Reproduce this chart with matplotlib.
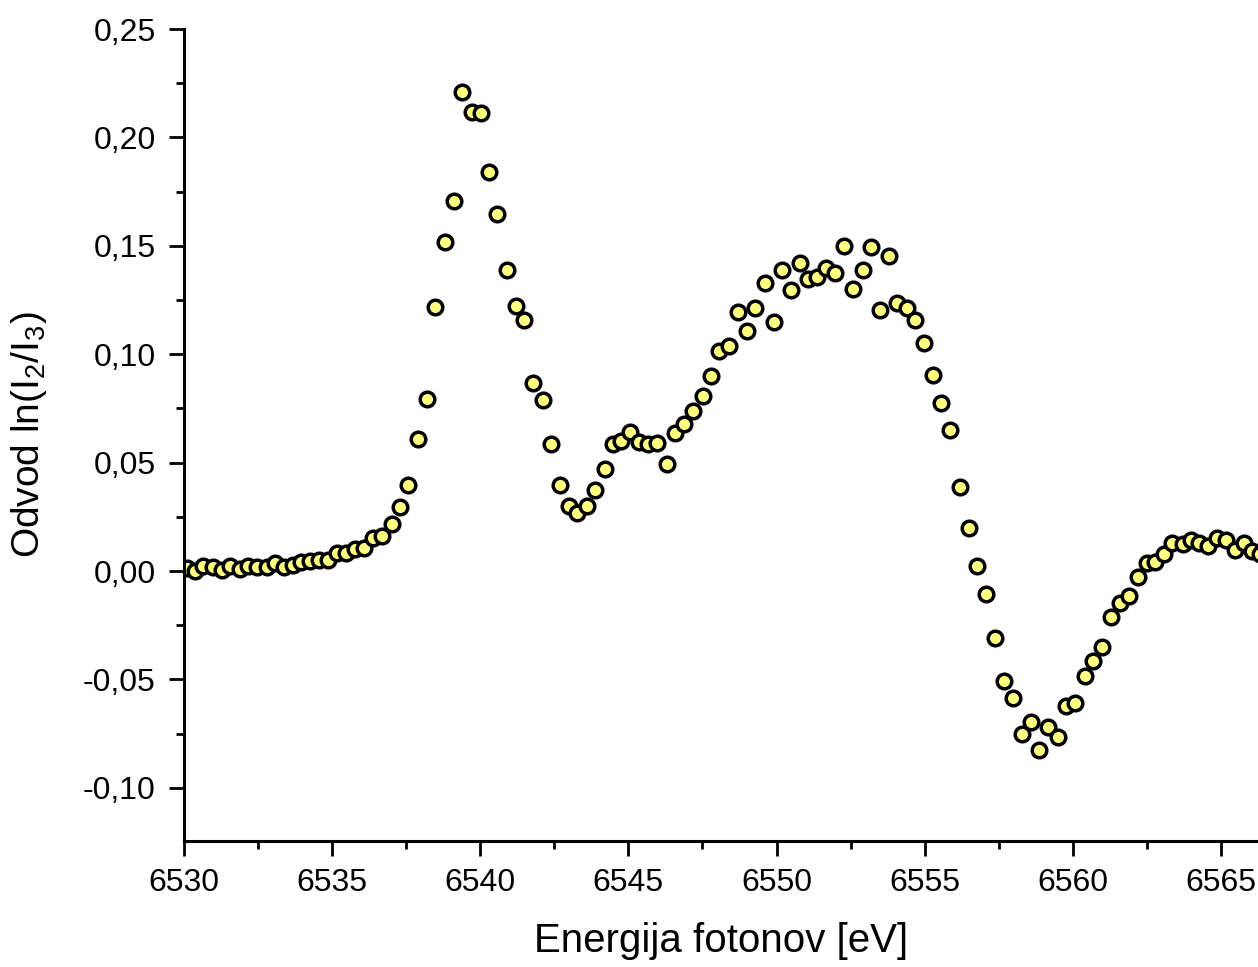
import matplotlib
matplotlib.use("Agg")
import matplotlib.pyplot as plt
from matplotlib.ticker import MultipleLocator, FuncFormatter

plt.rcParams['font.family'] = ['Liberation Sans', 'DejaVu Sans']
plt.rcParams['mathtext.fontset'] = 'custom'
plt.rcParams['mathtext.rm'] = 'Liberation Sans'
plt.rcParams['mathtext.it'] = 'Liberation Sans'

energy = [
    6530.09, 6530.37, 6530.65, 6530.99, 6531.27, 6531.55, 6531.89, 6532.17, 6532.45, 6532.79,
    6533.07, 6533.39, 6533.67, 6533.95, 6534.25, 6534.57, 6534.87, 6535.15, 6535.46, 6535.77,
    6536.09, 6536.39, 6536.69, 6537.03, 6537.28, 6537.57, 6537.90, 6538.19, 6538.48, 6538.81,
    6539.10, 6539.39, 6539.71, 6540.01, 6540.29, 6540.57, 6540.91, 6541.20, 6541.47, 6541.77,
    6542.12, 6542.39, 6542.69, 6542.99, 6543.28, 6543.60, 6543.88, 6544.22, 6544.47, 6544.76,
    6545.06, 6545.37, 6545.67, 6545.97, 6546.30, 6546.58, 6546.87, 6547.17, 6547.51, 6547.79,
    6548.07, 6548.39, 6548.71, 6548.99, 6549.28, 6549.61, 6549.90, 6550.19, 6550.48, 6550.79,
    6551.07, 6551.37, 6551.67, 6551.98, 6552.27, 6552.57, 6552.91, 6553.19, 6553.49, 6553.79,
    6554.08, 6554.39, 6554.68, 6554.96, 6555.28, 6555.55, 6555.86, 6556.20, 6556.49, 6556.77,
    6557.07, 6557.39, 6557.68, 6557.97, 6558.29, 6558.58, 6558.87, 6559.17, 6559.49, 6559.77,
    6560.07, 6560.41, 6560.69, 6560.98, 6561.28, 6561.60, 6561.88, 6562.19, 6562.49, 6562.79,
    6563.08, 6563.35, 6563.71, 6563.98, 6564.25, 6564.55, 6564.87, 6565.16, 6565.46, 6565.77,
    6566.05, 6566.32,
]
derivative = [
    0.0012, 0.0001, 0.0024, 0.0020, 0.0005, 0.0024, 0.0008, 0.0023, 0.0020, 0.0020,
    0.0038, 0.0020, 0.0028, 0.0040, 0.0046, 0.0051, 0.0051, 0.0082, 0.0082, 0.0100,
    0.0105, 0.0151, 0.0161, 0.0217, 0.0295, 0.0395, 0.0609, 0.0795, 0.1218, 0.1516,
    0.1707, 0.2208, 0.2119, 0.2111, 0.1842, 0.1645, 0.1388, 0.1222, 0.1158, 0.0869,
    0.0791, 0.0588, 0.0395, 0.0301, 0.0268, 0.0301, 0.0374, 0.0470, 0.0586, 0.0601,
    0.0640, 0.0594, 0.0586, 0.0589, 0.0492, 0.0635, 0.0678, 0.0739, 0.0809, 0.0899,
    0.1016, 0.1039, 0.1196, 0.1107, 0.1212, 0.1327, 0.1147, 0.1388, 0.1296, 0.1419,
    0.1345, 0.1357, 0.1396, 0.1376, 0.1499, 0.1299, 0.1388, 0.1496, 0.1206, 0.1455,
    0.1238, 0.1215, 0.1158, 0.1052, 0.0905, 0.0775, 0.0649, 0.0386, 0.0198, 0.0023,
    -0.0106, -0.0309, -0.0506, -0.0587, -0.0752, -0.0695, -0.0826, -0.0718, -0.0764, -0.0623,
    -0.0610, -0.0483, -0.0415, -0.0349, -0.0211, -0.0149, -0.0115, -0.0029, 0.0036, 0.0043,
    0.0077, 0.0131, 0.0125, 0.0143, 0.0131, 0.0115, 0.0151, 0.0143, 0.0097, 0.0131,
    0.0092, 0.0078,
]

x_label = "Energija fotonov [eV]"
y_label = "Odvod ln(I$_2$/I$_3$)"

fig = plt.figure(figsize=(12.58, 9.67), dpi=100)
ax = fig.add_axes([184/1258, 1 - 841/967, 1 - 184/1258, (841 - 29)/967])

ax.plot(energy, derivative, linestyle='none', marker='o', markersize=10.5,
        markerfacecolor='#FFFF80', markeredgecolor='black', markeredgewidth=2.5,
        clip_on=True)

ax.set_xlim(6530, 6566.25)
ax.set_ylim(-0.1245, 0.25)

ax.xaxis.set_major_locator(MultipleLocator(5))
ax.xaxis.set_minor_locator(MultipleLocator(2.5))
ax.yaxis.set_major_locator(MultipleLocator(0.05))
ax.yaxis.set_minor_locator(MultipleLocator(0.025))
ax.yaxis.set_major_formatter(FuncFormatter(lambda v, p: f"{v:.2f}".replace('.', ',').replace('-0,00', '0,00')))
ax.xaxis.set_major_formatter(FuncFormatter(lambda v, p: f"{v:.0f}"))

for s in ['top', 'right']:
    ax.spines[s].set_visible(False)
for s in ['left', 'bottom']:
    ax.spines[s].set_linewidth(2.2)

ax.tick_params(which='major', direction='out', length=10.5, width=2.0, labelsize=23)
ax.tick_params(axis='x', which='major', pad=9)
ax.tick_params(axis='y', which='major', pad=10)
ax.tick_params(which='minor', direction='out', length=5.5, width=2.0)

ax.set_xlabel(x_label, fontsize=29, labelpad=17)
ax.set_ylabel(y_label, fontsize=28, labelpad=24)

fig.savefig("out.png", dpi=100)
